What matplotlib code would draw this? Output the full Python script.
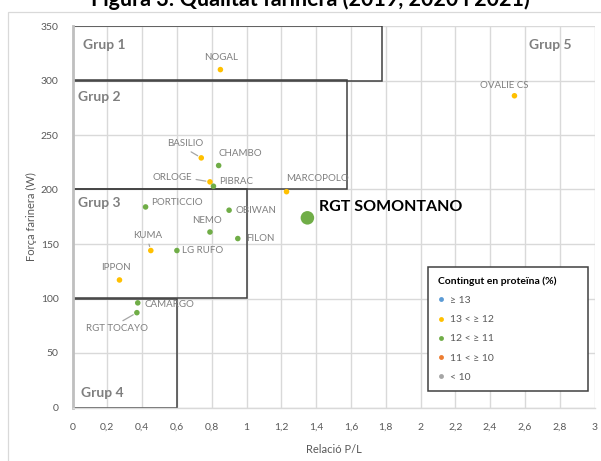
import matplotlib
matplotlib.use("Agg")
import matplotlib.pyplot as plt
from matplotlib.patches import Rectangle
from matplotlib.lines import Line2D

plt.rcParams['font.family'] = ['Lato', 'DejaVu Sans']

# --- DATA ---
varieties = ["NOGAL", "OVALIE CS", "BASILIO", "CHAMBO", "ORLOGE", "PIBRAC",
             "MARCOPOLO", "RGT SOMONTANO", "OBIWAN", "NEMO", "FILON", "LG RUFO",
             "KUMA", "PORTICCIO", "IPPON", "CAMARGO", "RGT TOCAYO"]
pl_ratio = [0.85, 2.54, 0.74, 0.84, 0.79, 0.81, 1.23, 1.35, 0.90, 0.79, 0.95,
            0.60, 0.45, 0.42, 0.27, 0.375, 0.37]
strength_w = [310, 286, 229, 222, 207, 203, 198, 174, 181, 161, 155, 144,
              144, 184, 117, 96, 87]
protein_class = ["13 < ≥ 12", "13 < ≥ 12", "13 < ≥ 12", "12 < ≥ 11", "13 < ≥ 12",
                 "12 < ≥ 11", "13 < ≥ 12", "12 < ≥ 11", "12 < ≥ 11", "12 < ≥ 11",
                 "12 < ≥ 11", "12 < ≥ 11", "13 < ≥ 12", "12 < ≥ 11", "13 < ≥ 12",
                 "12 < ≥ 11", "12 < ≥ 11"]
highlight = "RGT SOMONTANO"

legend_classes = ["≥ 13", "13 < ≥ 12", "12 < ≥ 11", "11 < ≥ 10", "< 10"]

# quality groups: name, P/L max, W min, W max
group_names = ["Grup 1", "Grup 2", "Grup 3", "Grup 4"]
group_pl_max = [1.78, 1.58, 1.0, 0.6]
group_w_min = [300, 200, 100, 0]
group_w_max = [350, 300, 200, 100]

# --- STYLE ---
class_colors = {"≥ 13": "#5B9BD5", "13 < ≥ 12": "#FFC000", "12 < ≥ 11": "#70AD47",
                "11 < ≥ 10": "#ED7D31", "< 10": "#A5A5A5"}
# label offsets in pixels (dx, dy), alignment, leader line anchor
label_pos = {
    "NOGAL": (1, 12, "center", None),
    "OVALIE CS": (-10, 10, "center", None),
    "BASILIO": (-16, 14, "center", (0.5, 0)),
    "CHAMBO": (22, 12, "center", None),
    "ORLOGE": (-18, 4, "right", (1.0, 0.4)),
    "PIBRAC": (6, 5, "left", None),
    "MARCOPOLO": (31, 13, "center", None),
    "RGT SOMONTANO": (12, 11, "left", None),
    "OBIWAN": (6, 0, "left", None),
    "NEMO": (-3, 12, "center", None),
    "FILON": (8, 0, "left", None),
    "LG RUFO": (5, 0, "left", None),
    "KUMA": (-3, 15, "center", (0.5, 0)),
    "PORTICCIO": (6, 4, "left", None),
    "IPPON": (-4, 12, "center", None),
    "CAMARGO": (7, -2, "left", None),
    "RGT TOCAYO": (-20, -16, "center", (0.5, 1)),
}
# group label anchors (data coords: left x, centre y)
group_label_xy = [(0.06, 333), (0.032, 285), (0.032, 188), (0.047, 13)]

grid_c = "#D9D9D9"
text_c = "#595959"
label_c = "#7F7F7F"

fig = plt.figure(figsize=(6.01, 4.61), dpi=100)
ax = fig.add_axes([72.5 / 601, 1 - 407.5 / 461, 522 / 601, 381.5 / 461])

# chart area border
fig.add_artist(Rectangle((8 / 601, -0.05), 1.1, 1 - 12 / 461 + 0.05,
                         transform=fig.transFigure, fill=False,
                         edgecolor=grid_c, linewidth=0.9))

fig.text(310 / 601, 1 - 6.5 / 461, "Figura 3: Qualitat farinera (2019, 2020 i 2021)",
         ha="center", va="baseline", fontsize=15.5, fontweight="bold", color="black")

ax.set_xlim(0, 3)
ax.set_ylim(0, 350)
ax.set_xticks([i * 0.2 for i in range(16)])
ax.set_xticklabels([("%g" % round(i * 0.2, 1)).replace(".", ",") for i in range(16)])
ax.set_yticks(range(0, 351, 50))
ax.tick_params(length=0, labelsize=7.5, labelcolor=text_c)
ax.tick_params(axis="x", pad=11)
ax.tick_params(axis="y", pad=10)
ax.grid(True, color=grid_c, linewidth=1.0)
ax.set_axisbelow(True)
for s in ["top", "right"]:
    ax.spines[s].set_visible(False)
ax.spines["left"].set_color("#BFBFBF")
ax.spines["left"].set_linewidth(2.0)
ax.spines["bottom"].set_color(grid_c)
ax.spines["bottom"].set_linewidth(1.0)

ax.set_xlabel("Relació P/L", fontsize=8, color=text_c, labelpad=9)
ax.set_ylabel("Força farinera (W)", fontsize=8, color=text_c, labelpad=3)

# group boxes
for name, pmax, wmin, wmax, (tx, ty) in zip(group_names, group_pl_max, group_w_min,
                                            group_w_max, group_label_xy):
    ax.add_patch(Rectangle((0, wmin), pmax, wmax - wmin, fill=False,
                           edgecolor="#404040", linewidth=1.1, zorder=2))
    ax.text(tx, ty, name, fontsize=10, fontweight="bold", color=label_c,
            ha="left", va="center", zorder=3)
ax.text(2.87, 333, "Grup 5", fontsize=10, fontweight="bold", color=label_c,
        ha="right", va="center", zorder=3)

# points
for v, x, y, c in zip(varieties, pl_ratio, strength_w, protein_class):
    big = v == highlight
    ax.scatter(x, y, s=95 if big else 16, color=class_colors[c], zorder=5,
               edgecolors="none")
    dx, dy, ha, rel = label_pos[v]
    kw = {}
    if rel is not None:
        kw["arrowprops"] = dict(arrowstyle="-", color="#A6A6A6", lw=0.9,
                                shrinkA=1, shrinkB=3, relpos=rel)
    if big:
        ax.annotate(v, (x, y), xytext=(dx, dy), textcoords="offset pixels",
                    ha=ha, va="center", fontsize=11.5, fontweight="bold",
                    color="black", zorder=6)
    else:
        ax.annotate(v, (x, y), xytext=(dx, dy), textcoords="offset pixels",
                    ha=ha, va="center", fontsize=7, color=label_c, zorder=6, **kw)

# legend
handles = [Line2D([], [], linestyle="none", marker="o", markersize=3.5,
                  markerfacecolor=class_colors[c], markeredgecolor="none")
           for c in legend_classes]
leg = ax.legend(handles, legend_classes, title="Contingut en proteïna (%)",
                loc="lower left", bbox_to_anchor=(0.672, 0.029, 0.326, 0.332),
                mode="expand", fontsize=7.5, title_fontsize=7.5, frameon=True,
                fancybox=False, edgecolor="#404040", framealpha=1,
                handlelength=0.6, handletextpad=0.6, labelspacing=0.95,
                borderpad=0.9, alignment="left", labelcolor=text_c)
leg.get_title().set_fontweight("bold")
leg.get_frame().set_linewidth(1.1)
leg.set_zorder(7)

fig.savefig("out.png", dpi=100)
